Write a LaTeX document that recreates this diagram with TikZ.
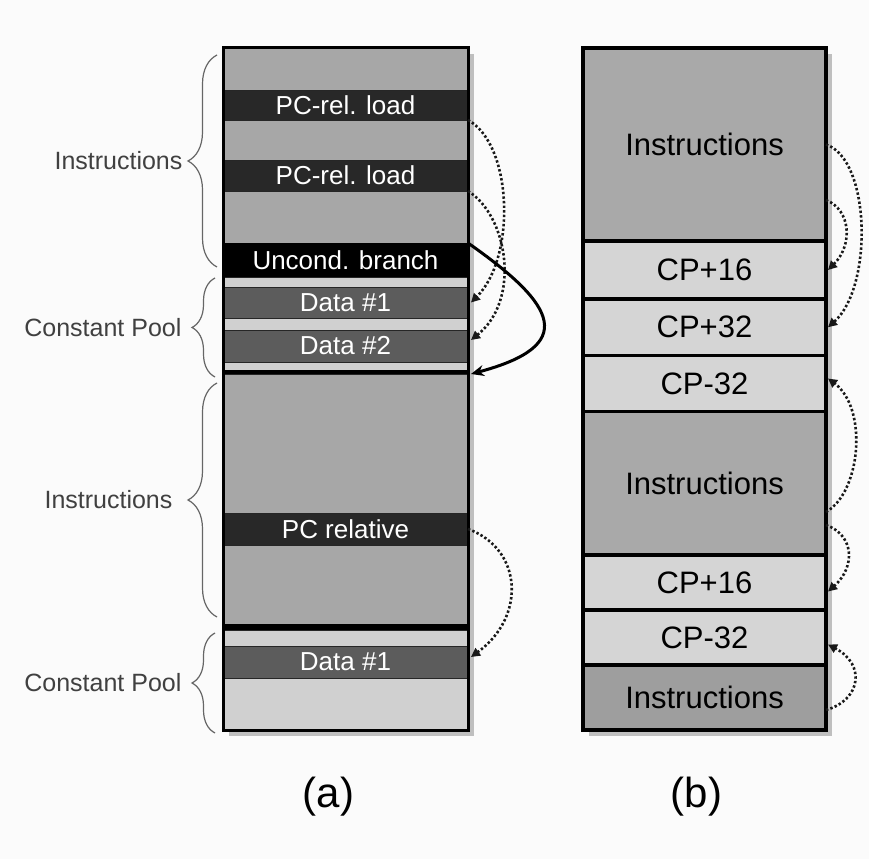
\documentclass[tikz,border=0pt]{standalone}
\usepackage{fontspec}
\setmainfont{Liberation Sans}
\usepackage{xcolor}
\usepackage{tikz}
\usetikzlibrary{arrows.meta,positioning,decorations.pathreplacing,backgrounds}

\definecolor{pagebg}{HTML}{FBFBFB}
\definecolor{insgray}{HTML}{A7A7A7}
\definecolor{ldgray}{HTML}{282828}
\definecolor{datgray}{HTML}{5C5C5C}
\definecolor{gapgray}{HTML}{D0D0D0}
\definecolor{cpgray}{HTML}{D5D5D5}
\definecolor{binsgray}{HTML}{A9A9A9}
\definecolor{lastgray}{HTML}{9E9E9E}

\begin{document}
\begin{tikzpicture}[
  x=1pt, y=1pt,
  band/.style={draw=black!85, line width=0.8pt, minimum width=245pt, inner sep=0pt, outer sep=0pt, font=\fontsize{26}{28}\selectfont},
  cpband/.style={draw, line width=3.5pt, minimum width=243pt, inner sep=0pt, outer sep=0pt, font=\fontsize{31}{33}\selectfont},
  lbl/.style={font=\fontsize{25}{27}\selectfont, text=black!75, inner sep=0pt},
  figlbl/.style={font=\fontsize{42}{44}\selectfont, inner sep=0pt},
  brc/.style={decorate, decoration={brace, amplitude=#1}, draw=black!60, line width=1.2pt},
  ptr/.style={line width=2.6pt, dash pattern=on 2.4pt off 2.2pt, draw=black!90, -{Triangle[length=9pt, width=9pt]}},
  arr/.style={line width=3pt, -{Stealth[length=13pt, width=11pt]}}
]
  \useasboundingbox (0,0) rectangle (869,859);
  \begin{scope}[on background layer]
    \fill[pagebg] (0,0) rectangle (869,859);
  \end{scope}

  \node[band, fill=insgray, minimum height=42pt, anchor=north west] (ins1) at (223,811) {};
  \node[band, fill=ldgray, text=white, minimum height=30pt, below=0pt of ins1] (ld1) {PC-rel. load};
  \node[band, fill=insgray, minimum height=40pt, below=0pt of ld1] (ins2) {};
  \node[band, fill=ldgray, text=white, minimum height=31pt, below=0pt of ins2] (ld2) {PC-rel. load};
  \node[band, fill=insgray, minimum height=52pt, below=0pt of ld2] (ins3) {};
  \node[band, draw=black, fill=black, text=white, minimum height=34pt, below=0pt of ins3] (br) {Uncond. branch};
  \node[band, fill=gapgray, minimum height=10pt, below=0pt of br] (gap1) {};
  \node[band, fill=datgray, text=white, minimum height=31pt, below=0pt of gap1] (dat1) {Data \#1};
  \node[band, fill=gapgray, minimum height=12pt, below=0pt of dat1] (gap2) {};
  \node[band, fill=datgray, text=white, minimum height=32pt, below=0pt of gap2] (dat2) {Data \#2};
  \node[band, fill=gapgray, minimum height=8pt, below=0pt of dat2] (gap3) {};
  \node[band, draw=black, fill=black, minimum height=4pt, below=0pt of gap3] (bar1) {};
  \node[band, fill=insgray, minimum height=139pt, below=0pt of bar1] (ins4) {};
  \node[band, fill=ldgray, text=white, minimum height=32pt, below=0pt of ins4] (pcr) {PC relative};
  \node[band, fill=insgray, minimum height=79pt, below=0pt of pcr] (ins5) {};
  \node[band, draw=black, fill=black, minimum height=6pt, below=0pt of ins5] (bar2) {};
  \node[band, fill=gapgray, minimum height=16pt, below=0pt of bar2] (gap4) {};
  \node[band, fill=datgray, text=white, minimum height=32pt, below=0pt of gap4] (dat3) {Data \#1};
  \node[band, fill=gapgray, minimum height=52pt, below=0pt of dat3] (gap5) {};
  \draw[line width=3pt] (ins1.north west) rectangle (gap5.south east);

  \node[cpband, fill=binsgray, minimum height=193pt, anchor=north west] (bins1) at (583,811) {Instructions};
  \node[cpband, fill=cpgray, minimum height=58pt, below=0pt of bins1] (cp1) {CP+16};
  \node[cpband, fill=cpgray, minimum height=56.5pt, below=0pt of cp1] (cp2) {CP+32};
  \node[cpband, fill=cpgray, minimum height=56pt, below=0pt of cp2] (cp3) {CP-32};
  \node[cpband, fill=binsgray, minimum height=143.5pt, below=0pt of cp3] (bins2) {Instructions};
  \node[cpband, fill=cpgray, minimum height=55pt, below=0pt of bins2] (cp4) {CP+16};
  \node[cpband, fill=cpgray, minimum height=55pt, below=0pt of cp4] (cp5) {CP-32};
  \node[cpband, fill=lastgray, minimum height=65pt, below=0pt of cp5] (bins3) {Instructions};

  \begin{scope}[on background layer]
    \fill[black!25] ([shift={(6pt,-6pt)}]ins1.north west) rectangle ([shift={(6pt,-6pt)}]gap5.south east);
    \fill[black!25] ([shift={(6pt,-6pt)}]bins1.north west) rectangle ([shift={(6pt,-6pt)}]bins3.south east);
  \end{scope}

  \draw[brc=29pt] ([xshift=-6pt,yshift=10pt]br.south west) -- ([xshift=-6pt,yshift=-7pt]ins1.north west)
    node[lbl, midway, left=34pt] (lins1) {Instructions};
  \draw[brc=23pt] ([xshift=-8pt,yshift=-3pt]ins4.north west) -- ([xshift=-8pt,yshift=-1pt]gap1.north west)
    node[lbl, midway, left=33pt] (lpool1) {Constant Pool};
  \draw[brc=29pt] ([xshift=-6pt,yshift=7pt]ins5.south west) -- ([xshift=-6pt,yshift=-9pt]ins4.north west)
    node[lbl, midway, left=44pt] (lins2) {Instructions};
  \draw[brc=23pt] ([xshift=-8pt,yshift=-3pt]gap5.south west) -- ([xshift=-8pt,yshift=-3pt]gap4.north west)
    node[lbl, midway, left=33pt] (lpool2) {Constant Pool};

  \draw[ptr] (ld1.south east) .. controls +(45,-25) and +(45,45) .. ([xshift=3pt]dat1.east);
  \draw[ptr] (ld2.south east) .. controls +(40,-25) and +(50,40) .. ([xshift=3pt,yshift=6pt]dat2.east);
  \draw[arr] (br.north east) .. controls +(-35:110) and +(15:110) .. ([xshift=3pt]ins4.north east);
  \draw[ptr] (pcr.east) .. controls +(55,-20) and +(55,40) .. ([xshift=3pt,yshift=5pt]dat3.east);

  \draw[ptr] (bins1.east) .. controls +(45,-15) and +(45,40) .. ([xshift=2pt]cp2.east);
  \draw[ptr] ([yshift=41pt]bins1.south east) .. controls +(25,-10) and +(25,25) .. ([xshift=2pt]cp1.east);
  \draw[ptr] ([yshift=43pt]bins2.south east) .. controls +(35,20) and +(40,-30) .. ([xshift=2pt,yshift=5pt]cp3.east);
  \draw[ptr] ([yshift=30pt]bins2.south east) .. controls +(28,-10) and +(28,25) .. ([xshift=2pt,yshift=-9pt]cp4.east);
  \draw[ptr] ([yshift=20pt]bins3.south east) .. controls +(35,10) and +(38,-20) .. ([xshift=2pt,yshift=-7pt]cp5.east);

  \node[figlbl] (capa) at ([xshift=-17pt,yshift=-67pt]gap5.south) {(a)};
  \node[figlbl] (capb) at ([xshift=-8pt,yshift=-67pt]bins3.south) {(b)};
\end{tikzpicture}
\end{document}
